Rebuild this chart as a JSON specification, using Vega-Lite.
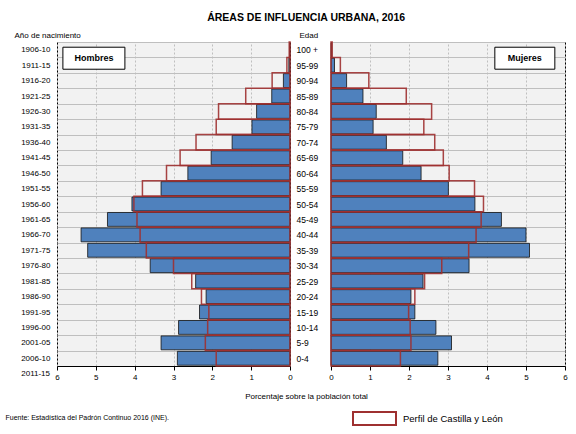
{
  "$schema": "https://vega.github.io/schema/vega-lite/v6.json",
  "background": "white",
  "padding": {"left": 4, "top": 13, "right": 6, "bottom": 6},
  "autosize": {"type": "pad"},
  "bounds": "flush",
  "spacing": 41,
  "title": {"text": "ÁREAS DE INFLUENCIA URBANA, 2016", "fontSize": 10.5, "fontWeight": "bold", "font": "Liberation Sans", "anchor": "middle", "dx": 20, "offset": 7, "color": "#000"},
  "config": {
    "font": "Liberation Sans",
    "view": {"fill": "#f2f2f2", "stroke": "#000", "strokeWidth": 1},
    "axis": {"labelColor": "#000", "titleColor": "#000", "labelFont": "Liberation Sans", "titleFont": "Liberation Sans"}
  },
  "resolve": {"scale": {"stroke": "independent"}, "legend": {"stroke": "independent"}},
  "datasets": {
    "hombres": [
      {"edad": "100 +", "urbana": 0.01, "cyl": 0.02},
      {"edad": "95-99", "urbana": 0.03, "cyl": 0.08},
      {"edad": "90-94", "urbana": 0.17, "cyl": 0.46},
      {"edad": "85-89", "urbana": 0.47, "cyl": 1.14},
      {"edad": "80-84", "urbana": 0.86, "cyl": 1.84},
      {"edad": "75-79", "urbana": 0.98, "cyl": 1.90},
      {"edad": "70-74", "urbana": 1.49, "cyl": 2.42},
      {"edad": "65-69", "urbana": 2.03, "cyl": 2.83},
      {"edad": "60-64", "urbana": 2.63, "cyl": 3.18},
      {"edad": "55-59", "urbana": 3.32, "cyl": 3.80},
      {"edad": "50-54", "urbana": 4.07, "cyl": 4.02},
      {"edad": "45-49", "urbana": 4.70, "cyl": 3.94},
      {"edad": "40-44", "urbana": 5.38, "cyl": 3.86},
      {"edad": "35-39", "urbana": 5.21, "cyl": 3.70},
      {"edad": "30-34", "urbana": 3.60, "cyl": 3.00},
      {"edad": "25-29", "urbana": 2.43, "cyl": 2.53},
      {"edad": "20-24", "urbana": 2.16, "cyl": 2.28},
      {"edad": "15-19", "urbana": 2.33, "cyl": 2.09},
      {"edad": "10-14", "urbana": 2.87, "cyl": 2.12},
      {"edad": "5-9", "urbana": 3.32, "cyl": 2.18},
      {"edad": "0-4", "urbana": 2.90, "cyl": 1.90}
    ],
    "mujeres": [
      {"edad": "100 +", "urbana": 0.02, "cyl": 0.03},
      {"edad": "95-99", "urbana": 0.09, "cyl": 0.24},
      {"edad": "90-94", "urbana": 0.40, "cyl": 0.97},
      {"edad": "85-89", "urbana": 0.82, "cyl": 1.93},
      {"edad": "80-84", "urbana": 1.16, "cyl": 2.58},
      {"edad": "75-79", "urbana": 1.08, "cyl": 2.38},
      {"edad": "70-74", "urbana": 1.42, "cyl": 2.66},
      {"edad": "65-69", "urbana": 1.84, "cyl": 2.88},
      {"edad": "60-64", "urbana": 2.31, "cyl": 3.03},
      {"edad": "55-59", "urbana": 3.01, "cyl": 3.68},
      {"edad": "50-54", "urbana": 3.69, "cyl": 3.91},
      {"edad": "45-49", "urbana": 4.37, "cyl": 3.85},
      {"edad": "40-44", "urbana": 5.00, "cyl": 3.72},
      {"edad": "35-39", "urbana": 5.09, "cyl": 3.53},
      {"edad": "30-34", "urbana": 3.54, "cyl": 2.84},
      {"edad": "25-29", "urbana": 2.36, "cyl": 2.40},
      {"edad": "20-24", "urbana": 2.05, "cyl": 2.15},
      {"edad": "15-19", "urbana": 2.15, "cyl": 1.99},
      {"edad": "10-14", "urbana": 2.69, "cyl": 2.03},
      {"edad": "5-9", "urbana": 3.09, "cyl": 2.05},
      {"edad": "0-4", "urbana": 2.74, "cyl": 1.78}
    ]
  },
  "hconcat": [
    {
      "width": 233,
      "height": 324,
      "data": {"name": "hombres"},
      "encoding": {
        "y": {
          "field": "edad", "type": "nominal",
          "scale": {"domain": ["100 +","95-99","90-94","85-89","80-84","75-79","70-74","65-69","60-64","55-59","50-54","45-49","40-44","35-39","30-34","25-29","20-24","15-19","10-14","5-9","0-4"], "paddingInner": 0, "paddingOuter": 0},
          "axis": {
            "title": "Año de nacimiento", "titleAngle": 0, "titleAlign": "left", "titleBaseline": "alphabetic",
            "titleX": -43, "titleY": -5, "titleFontSize": 8, "titleFontWeight": "normal",
            "labelExpr": "isString(datum.value) && !isNaN(parseInt(datum.value)) ? (2006 - parseInt(datum.value)) + '-' + slice('' + (2010 - parseInt(datum.value)), 2) : ''",
            "labelFontSize": 8, "labelPadding": 7, "ticks": false, "domain": false,
            "grid": true, "tickBand": "extent", "gridColor": "#bfbfbf", "gridWidth": 1
          }
        }
      },
      "layer": [
        {
          "mark": {"type": "bar", "fill": "#4f81bd", "stroke": "#111111", "strokeWidth": 0.8, "height": {"band": 0.9}},
          "encoding": {
            "x": {
              "field": "urbana", "type": "quantitative",
              "scale": {"domain": [0, 6], "reverse": true, "nice": false, "zero": true},
              "axis": {
                "values": [0,1,2,3,4,5,6], "format": "d", "labelFontSize": 8, "labelPadding": 3,
                "labelOverlap": false, "labelFlush": false,
                "grid": true, "gridDash": [2,2], "gridColor": "#bfbfbf",
                "tickSize": 4, "tickColor": "#000", "domainColor": "#000",
                "title": "Fuente: Estadística del Padrón Continuo 2016 (INE).",
                "titleX": -52, "titleY": 51, "titleAlign": "left", "titleBaseline": "middle",
                "titleFontSize": 7, "titleFontWeight": "normal"
              }
            }
          }
        },
        {
          "mark": {"type": "bar", "fill": "transparent", "stroke": "#9e3030", "strokeWidth": 1.5, "strokeOpacity": 0.9},
          "encoding": {
            "x": {
              "field": "cyl", "type": "quantitative",
              "axis": {
                "values": [0,1,2,3,4,5,6], "format": "d", "labelFontSize": 8, "labelPadding": 3,
                "labelOverlap": false, "labelFlush": false,
                "grid": true, "gridDash": [2,2], "gridColor": "#bfbfbf",
                "tickSize": 4, "tickColor": "#000", "domainColor": "#000",
                "title": "Fuente: Estadística del Padrón Continuo 2016 (INE).",
                "titleX": -52, "titleY": 51, "titleAlign": "left", "titleBaseline": "middle",
                "titleFontSize": 7, "titleFontWeight": "normal"
              }
            }
          }
        },
        {
          "data": {"values": [{"label": "Hombres"}]},
          "mark": {"type": "point", "shape": "M-1,-0.355H1V0.355H-1Z", "size": 3844, "filled": true, "fill": "white", "stroke": "#000", "strokeWidth": 1, "opacity": 1, "yOffset": 8.5},
          "encoding": {
            "x": {
              "datum": 5.05, "type": "quantitative",
              "axis": {
                "values": [0,1,2,3,4,5,6], "format": "d", "labelFontSize": 8, "labelPadding": 3,
                "labelOverlap": false, "labelFlush": false,
                "grid": true, "gridDash": [2,2], "gridColor": "#bfbfbf",
                "tickSize": 4, "tickColor": "#000", "domainColor": "#000",
                "title": "Fuente: Estadística del Padrón Continuo 2016 (INE).",
                "titleX": -52, "titleY": 51, "titleAlign": "left", "titleBaseline": "middle",
                "titleFontSize": 7, "titleFontWeight": "normal"
              }
            },
            "y": {"datum": "100 +"}
          }
        },
        {
          "data": {"values": [{"label": "Hombres"}]},
          "mark": {"type": "text", "fontWeight": "bold", "fontSize": 9, "color": "#000", "yOffset": 8.5},
          "encoding": {
            "x": {
              "datum": 5.05, "type": "quantitative",
              "axis": {
                "values": [0,1,2,3,4,5,6], "format": "d", "labelFontSize": 8, "labelPadding": 3,
                "labelOverlap": false, "labelFlush": false,
                "grid": true, "gridDash": [2,2], "gridColor": "#bfbfbf",
                "tickSize": 4, "tickColor": "#000", "domainColor": "#000",
                "title": "Fuente: Estadística del Padrón Continuo 2016 (INE).",
                "titleX": -52, "titleY": 51, "titleAlign": "left", "titleBaseline": "middle",
                "titleFontSize": 7, "titleFontWeight": "normal"
              }
            },
            "y": {"datum": "100 +"},
            "text": {"field": "label"}
          }
        },
        {
          "data": {"values": [{"label": "2011-15"}]},
          "mark": {"type": "text", "fontSize": 8, "color": "#000", "align": "right", "dx": -7, "dy": 15.4},
          "encoding": {
            "x": {
              "datum": 6, "type": "quantitative",
              "axis": {
                "values": [0,1,2,3,4,5,6], "format": "d", "labelFontSize": 8, "labelPadding": 3,
                "labelOverlap": false, "labelFlush": false,
                "grid": true, "gridDash": [2,2], "gridColor": "#bfbfbf",
                "tickSize": 4, "tickColor": "#000", "domainColor": "#000",
                "title": "Fuente: Estadística del Padrón Continuo 2016 (INE).",
                "titleX": -52, "titleY": 51, "titleAlign": "left", "titleBaseline": "middle",
                "titleFontSize": 7, "titleFontWeight": "normal"
              }
            },
            "y": {"datum": "0-4"},
            "text": {"field": "label"}
          }
        }
      ]
    },
    {
      "width": 234,
      "height": 324,
      "data": {"name": "mujeres"},
      "encoding": {
        "y": {
          "field": "edad", "type": "nominal",
          "scale": {"domain": ["100 +","95-99","90-94","85-89","80-84","75-79","70-74","65-69","60-64","55-59","50-54","45-49","40-44","35-39","30-34","25-29","20-24","15-19","10-14","5-9","0-4"], "paddingInner": 0, "paddingOuter": 0},
          "axis": {
            "title": "Edad", "titleAngle": 0, "titleAlign": "left", "titleBaseline": "alphabetic",
            "titleX": -32, "titleY": -5, "titleFontSize": 8, "titleFontWeight": "normal",
            "labelFontSize": 8.5, "labelAlign": "left", "labelPadding": 35, "ticks": false, "domain": false,
            "grid": true, "tickBand": "extent", "gridColor": "#bfbfbf", "gridWidth": 1
          }
        }
      },
      "layer": [
        {
          "mark": {"type": "bar", "fill": "#4f81bd", "stroke": "#111111", "strokeWidth": 0.8, "height": {"band": 0.9}},
          "encoding": {
            "x": {
              "field": "urbana", "type": "quantitative",
              "scale": {"domain": [0, 6], "nice": false, "zero": true},
              "axis": {
                "values": [0,1,2,3,4,5,6], "format": "d", "labelFontSize": 8, "labelPadding": 3,
                "labelOverlap": false, "labelFlush": false,
                "grid": true, "gridDash": [2,2], "gridColor": "#bfbfbf",
                "tickSize": 4, "tickColor": "#000", "domainColor": "#000",
                "title": "Porcentaje sobre la población total",
                "titleX": -25, "titleY": 30, "titleAlign": "center", "titleBaseline": "middle",
                "titleFontSize": 8, "titleFontWeight": "normal"
              }
            }
          }
        },
        {
          "mark": {"type": "bar", "fill": "transparent", "strokeWidth": 1.5, "strokeOpacity": 0.9},
          "encoding": {
            "x": {
              "field": "cyl", "type": "quantitative",
              "axis": {
                "values": [0,1,2,3,4,5,6], "format": "d", "labelFontSize": 8, "labelPadding": 3,
                "labelOverlap": false, "labelFlush": false,
                "grid": true, "gridDash": [2,2], "gridColor": "#bfbfbf",
                "tickSize": 4, "tickColor": "#000", "domainColor": "#000",
                "title": "Porcentaje sobre la población total",
                "titleX": -25, "titleY": 30, "titleAlign": "center", "titleBaseline": "middle",
                "titleFontSize": 8, "titleFontWeight": "normal"
              }
            },
            "stroke": {
              "datum": "Perfil de Castilla y León", "type": "nominal",
              "scale": {"range": ["#9e3030"]},
              "legend": {
                "orient": "none", "legendX": 21, "legendY": 354, "title": null, "padding": 0,
                "symbolType": "M-1,-0.3H1V0.3H-1Z", "symbolSize": 1849, "symbolStrokeWidth": 2,
                "symbolFillColor": "transparent", "symbolStrokeColor": "#9e3030",
                "labelFontSize": 9.5, "labelColor": "#000", "labelOffset": 6, "labelFont": "Liberation Sans"
              }
            }
          }
        },
        {
          "data": {"values": [{"label": "Mujeres"}]},
          "mark": {"type": "point", "shape": "M-1,-0.366H1V0.366H-1Z", "size": 3600, "filled": true, "fill": "white", "stroke": "#000", "strokeWidth": 1, "opacity": 1, "yOffset": 8.5},
          "encoding": {
            "x": {
              "datum": 4.97, "type": "quantitative",
              "axis": {
                "values": [0,1,2,3,4,5,6], "format": "d", "labelFontSize": 8, "labelPadding": 3,
                "labelOverlap": false, "labelFlush": false,
                "grid": true, "gridDash": [2,2], "gridColor": "#bfbfbf",
                "tickSize": 4, "tickColor": "#000", "domainColor": "#000",
                "title": "Porcentaje sobre la población total",
                "titleX": -25, "titleY": 30, "titleAlign": "center", "titleBaseline": "middle",
                "titleFontSize": 8, "titleFontWeight": "normal"
              }
            },
            "y": {"datum": "100 +"}
          }
        },
        {
          "data": {"values": [{"label": "Mujeres"}]},
          "mark": {"type": "text", "fontWeight": "bold", "fontSize": 9, "color": "#000", "yOffset": 8.5},
          "encoding": {
            "x": {
              "datum": 4.97, "type": "quantitative",
              "axis": {
                "values": [0,1,2,3,4,5,6], "format": "d", "labelFontSize": 8, "labelPadding": 3,
                "labelOverlap": false, "labelFlush": false,
                "grid": true, "gridDash": [2,2], "gridColor": "#bfbfbf",
                "tickSize": 4, "tickColor": "#000", "domainColor": "#000",
                "title": "Porcentaje sobre la población total",
                "titleX": -25, "titleY": 30, "titleAlign": "center", "titleBaseline": "middle",
                "titleFontSize": 8, "titleFontWeight": "normal"
              }
            },
            "y": {"datum": "100 +"},
            "text": {"field": "label"}
          }
        }
      ]
    }
  ]
}
